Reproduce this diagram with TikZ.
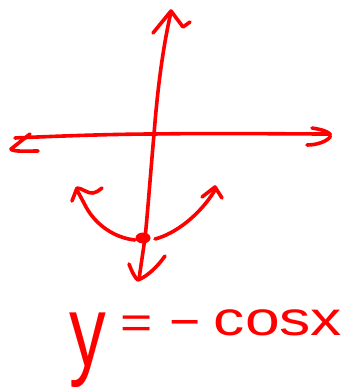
\documentclass[tikz,border=0pt]{standalone}
\usepackage{fontspec}
\setmainfont{Liberation Sans}
\begin{document}
\begin{tikzpicture}[x=1pt,y=-1pt,
  pen/.style={draw=red,line width=3.6pt,line cap=round,line join=round},
  hand/.style={text=red,inner sep=0pt,anchor=center}]
\useasboundingbox (0,0) rectangle (352,390);
% horizontal axis
\draw[pen] (15,138) .. controls (80,135) and (130,134) .. (154,134) .. controls (220,133) and (290,134) .. (330,134);
\draw[pen] (312,128) .. controls (325,130) and (332,133) .. (330,137) .. controls (327,141) and (318,145) .. (307,145);
\draw[pen] (30,134) -- (11,149) .. controls (12,152) and (28,151) .. (38,151);
% vertical axis
\draw[pen] (171,12) .. controls (160,60) and (156,110) .. (154,134) .. controls (150,180) and (147,220) .. (145,238) -- (139,279);
\draw[pen] (153,33) -- (171,11) -- (183,27) -- (190,22);
\draw[pen] (129,264) .. controls (132,272) and (135,278) .. (138,280) .. controls (148,276) and (158,266) .. (165,256);
% parabola
\draw[pen] (135,240) .. controls (115,238) and (95,225) .. (85,205) -- (77,190);
\draw[pen] (72,201) -- (77,188) .. controls (82,188) and (88,194) .. (93,193) .. controls (97,192) and (100,190) .. (102,188);
\draw[pen] (155,239) .. controls (175,234) and (200,215) .. (215,190);
\draw[pen] (202,197) -- (215,187) -- (222,198);
\fill[red] (143,238) ellipse [x radius=7.5, y radius=5.5];
% text
\node[hand,font=\fontsize{70}{70}\selectfont,xscale=1.05,yscale=1.45] (ylab) at (88,350) {y};
\node[hand,font=\fontsize{46}{46}\selectfont,xscale=1.2] (eq) at (137,327) {=};
\node[hand,font=\fontsize{46}{46}\selectfont,xscale=2.3] (minus) at (185,327) {-};
\node[hand,font=\fontsize{48}{48}\selectfont,xscale=1.3] (cos) at (278,323) {cosx};
\end{tikzpicture}
\end{document}
